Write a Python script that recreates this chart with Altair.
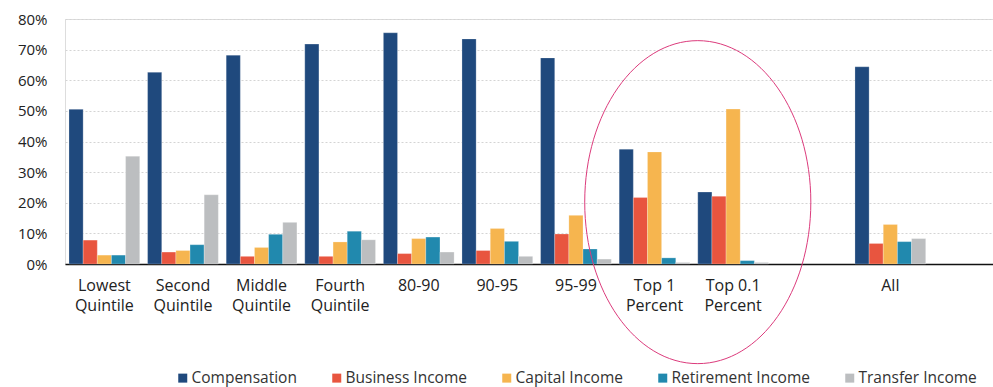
import altair as alt
import pandas as pd

categories = ["Lowest|Quintile", "Second|Quintile", "Middle|Quintile", "Fourth|Quintile",
              "80-90", "90-95", "95-99", "Top 1|Percent", "Top 0.1|Percent", "All"]
x_domain = categories[:9] + ["gap"] + ["All"]

series = ["Compensation", "Business Income", "Capital Income", "Retirement Income", "Transfer Income"]
colors = ["#1f497d", "#e8553f", "#f6b54f", "#2189ae", "#bcbec0"]

compensation = [0.505, 0.626, 0.682, 0.718, 0.755, 0.735, 0.673, 0.375, 0.235, 0.644]
business = [0.078, 0.039, 0.025, 0.025, 0.034, 0.044, 0.098, 0.217, 0.221, 0.067]
capital = [0.029, 0.044, 0.054, 0.072, 0.083, 0.116, 0.159, 0.366, 0.506, 0.129]
retirement = [0.029, 0.063, 0.097, 0.107, 0.088, 0.074, 0.049, 0.020, 0.011, 0.073]
transfer = [0.352, 0.226, 0.136, 0.079, 0.039, 0.025, 0.016, 0.005, 0.005, 0.083]
y_ticks = [0, 0.1, 0.2, 0.3, 0.4, 0.5, 0.6, 0.7, 0.8]

values = [compensation, business, capital, retirement, transfer]
rows = []
for s, vals in zip(series, values):
    for c, v in zip(categories, vals):
        rows.append({"category": c, "series": s, "value": v})
df = pd.DataFrame(rows)

# annotation ellipse anchor
ann = pd.DataFrame([{"category": "Top 0.1|Percent", "value": 0.202}])

FONT = "Open Sans"

xscale = alt.Scale(domain=x_domain, paddingInner=0.1, paddingOuter=0.4535, align=0.056)
yscale = alt.Scale(domain=[0, 0.8], nice=False)

x_axis = alt.Axis(labelAngle=0, labelExpr="datum.label == 'gap' ? '' : split(datum.label, '|')",
                  labelFont=FONT, labelFontSize=16, labelColor="#222222",
                  labelLineHeight=20, labelPadding=13, labelBaseline="top",
                  ticks=False, domainColor="#111111", domainWidth=1.5, grid=False)
y_axis = alt.Axis(format=".0%", values=y_ticks, tickCount=9, labelOverlap=False,
                  labelFont=FONT, labelFontSize=15, labelColor="#222222",
                  labelPadding=18, ticks=False, domain=False,
                  gridColor="#d4d4d4", gridDash=[2, 2], gridWidth=1)

bars = alt.Chart(df).mark_bar(stroke="white", strokeWidth=0.4, strokeOpacity=0.6).encode(
    x=alt.X("category:N", scale=xscale, sort=x_domain, title=None, axis=x_axis),
    xOffset=alt.XOffset("series:N", sort=series, scale=alt.Scale(domain=series)),
    y=alt.Y("value:Q", scale=yscale, title=None, axis=y_axis),
    color=alt.Color("series:N", sort=series, scale=alt.Scale(domain=series, range=colors),
                    legend=alt.Legend(title=None, orient="none", direction="horizontal",
                                      legendX=110, legendY=351, symbolType="square",
                                      symbolSize=81, symbolStrokeWidth=0, labelFont=FONT,
                                      labelFontSize=15.5, labelColor="#333333",
                                      labelOffset=1, columnPadding=32, symbolOffset=0)),
)

ellipse = alt.Chart(ann).mark_point(
    shape="M -0.7 0 A 0.7 1 0 1 0 0.7 0 A 0.7 1 0 1 0 -0.7 0",
    size=104329, filled=False, stroke="#dc3b7c", strokeWidth=1, opacity=1
).encode(
    x=alt.X("category:N", scale=xscale, sort=x_domain, bandPosition=0, title=None, axis=x_axis),
    y=alt.Y("value:Q", scale=yscale, title=None, axis=y_axis),
)

chart = alt.layer(bars, ellipse).properties(
    width=928, height=245,
    autosize=alt.AutoSizeParams(type="none"),
    padding={"left": 65, "top": 19, "right": 0, "bottom": 123},
).configure_view(stroke=None).configure(background="white")

chart.save("out.html", embed_options={"renderer": "svg", "actions": False})
